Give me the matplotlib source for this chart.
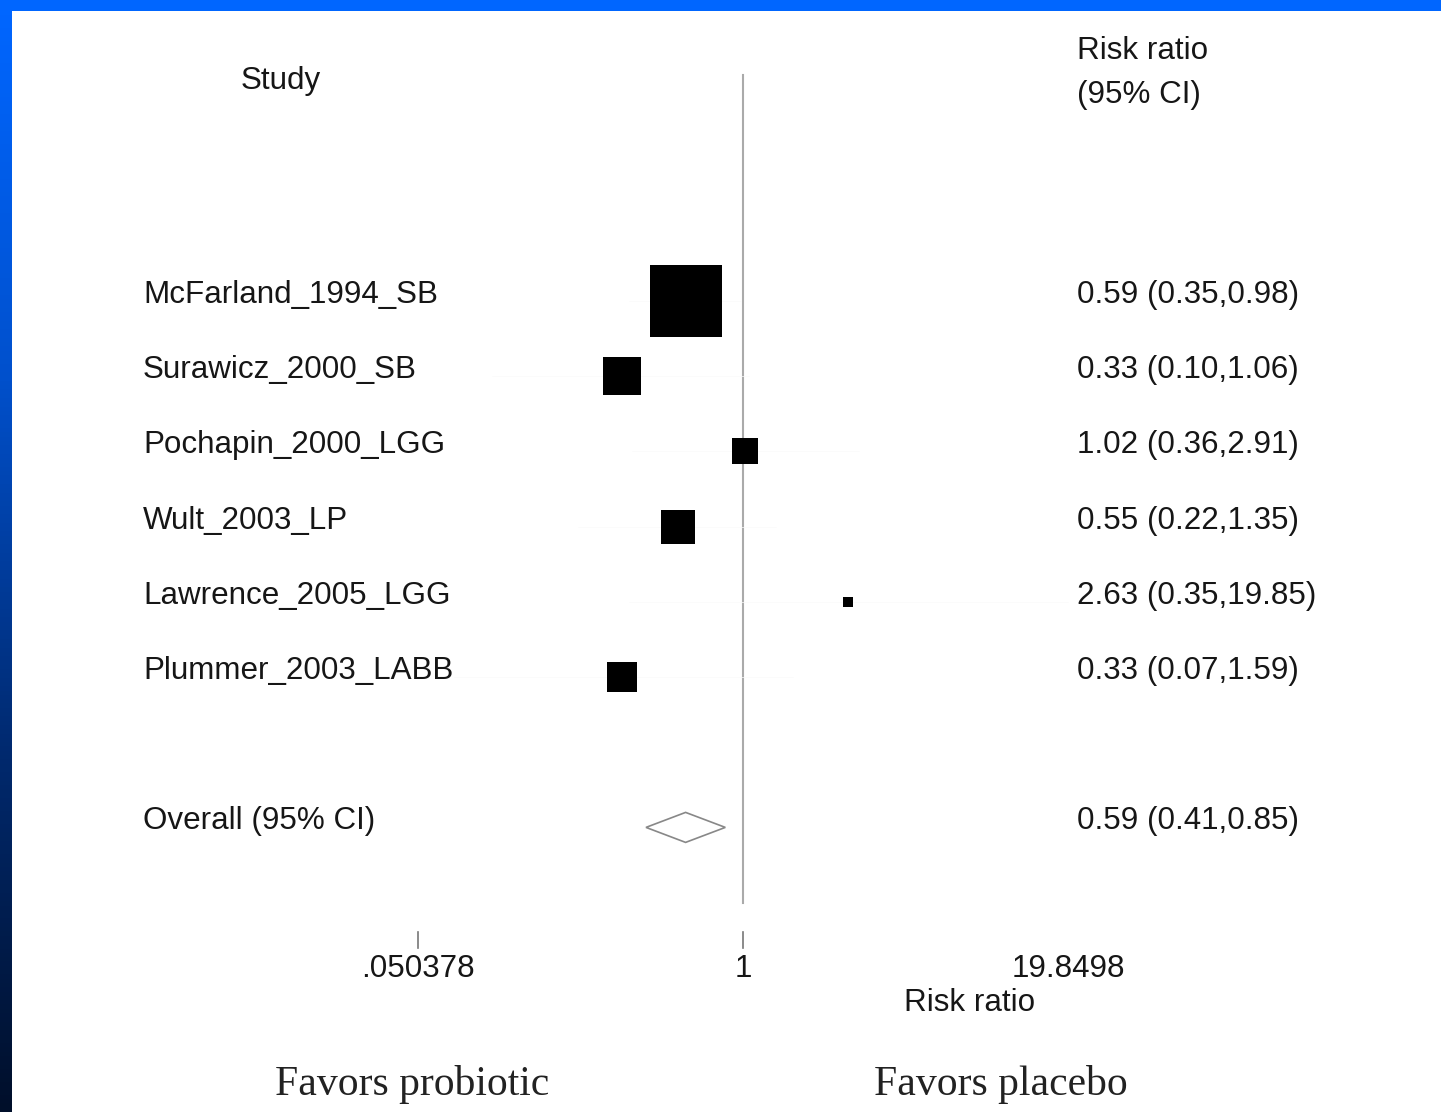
import numpy as np
import matplotlib
matplotlib.use("Agg")
import matplotlib.pyplot as plt
from matplotlib.patches import Polygon, Rectangle
from matplotlib.colors import LinearSegmentedColormap
import matplotlib.transforms as mtransforms

# data
studies = ["McFarland_1994_SB", "Surawicz_2000_SB", "Pochapin_2000_LGG",
           "Wult_2003_LP", "Lawrence_2005_LGG", "Plummer_2003_LABB"]
rr = [0.59, 0.33, 1.02, 0.55, 2.63, 0.33]
ci_lo = [0.35, 0.10, 0.36, 0.22, 0.35, 0.07]
ci_hi = [0.98, 1.06, 2.91, 1.35, 19.85, 1.59]
weights = [54.1, 15.1, 7.6, 12.1, 1.0, 10.0]   # % weight -> box area
rr_text = ["0.59 (0.35,0.98)", "0.33 (0.10,1.06)", "1.02 (0.36,2.91)",
           "0.55 (0.22,1.35)", "2.63 (0.35,19.85)", "0.33 (0.07,1.59)"]
overall = 0.59
overall_lo = 0.41
overall_hi = 0.85
overall_text = "0.59 (0.41,0.85)"
tick_vals = [0.050378, 1, 19.8498]
tick_labels = [".050378", "1", "19.8498"]

W, H = 1441, 1112
fig = plt.figure(figsize=(W / 100, H / 100), dpi=100)
fig.patch.set_facecolor("white")

# blue slide border (top bar + left gradient bar)
fig.patches.append(Rectangle((0, 1 - 11 / H), 1, 11 / H, transform=fig.transFigure,
                             facecolor="#0066ff", edgecolor="none", zorder=0))
bar = fig.add_axes([0, 0, 12 / W, 1 - 11 / H])
cmap = LinearSegmentedColormap.from_list("side", ["#0066ff", "#0050cc", "#002a70", "#000f2a"])
bar.imshow(np.linspace(0, 1, 256).reshape(-1, 1), aspect="auto", cmap=cmap)
bar.axis("off")

# main axes spanning the figure, log x with 1 at x=743px
px_per_ln = 108.8
ax = fig.add_axes([0, 0, 1, 1])
ax.set_xscale("log")
ax.set_xlim(np.exp(-743 / px_per_ln), np.exp((W - 743) / px_per_ln))
ax.set_ylim(H, 0)
ax.axis("off")
ax.patch.set_alpha(0)

row0, step = 301, 75.2
rows = [row0 + step * i for i in range(len(studies))]
y_overall = rows[-1] + 2 * step

tr = mtransforms.blended_transform_factory(fig.transFigure, ax.transData)
font = "Liberation Sans"
fs = 22.6
tc = "#161616"

# null line
ax.plot([1, 1], [75, 903], color="#aaaaaa", lw=1.5, zorder=1)

# CIs (barely visible in the reference) and boxes
for i in range(len(studies)):
    ax.plot([ci_lo[i], ci_hi[i]], [rows[i], rows[i]], color="#fafafa", lw=0.5, zorder=1)
    side = 9.79 * np.sqrt(weights[i])
    ax.plot(rr[i], rows[i], marker="s", ms=side * 0.72, color="black", mew=0, zorder=3)
    ax.text(143 / W, rows[i] - 6, studies[i], transform=tr, fontsize=fs, family=font,
            va="center", ha="left", color=tc)
    ax.text(1077 / W, rows[i] - 6, rr_text[i], transform=tr, fontsize=fs, family=font,
            va="center", ha="left", color=tc)

# overall diamond
ax.add_patch(Polygon([(overall_lo, y_overall), (overall, y_overall - 15),
                      (overall_hi, y_overall), (overall, y_overall + 15)],
                     closed=True, facecolor="white", edgecolor="#888888", lw=1.2, zorder=3))
ax.text(143 / W, y_overall - 6, "Overall (95% CI)", transform=tr, fontsize=fs, family=font,
        va="center", ha="left", color=tc)
ax.text(1077 / W, y_overall - 6, overall_text, transform=tr, fontsize=fs, family=font,
        va="center", ha="left", color=tc)

# headers
ax.text(241 / W, 81, "Study", transform=tr, fontsize=fs, family=font, va="center", ha="left",
        color=tc)
ax.text(1077 / W, 51, "Risk ratio", transform=tr, fontsize=fs, family=font, va="center",
        ha="left", color=tc)
ax.text(1077 / W, 95, "(95% CI)", transform=tr, fontsize=fs, family=font, va="center",
        ha="left", color=tc)

# x axis ticks and labels
for v in tick_vals[:2]:
    ax.plot([v, v], [932, 948], color="#777777", lw=1.2)
for v, lab in zip(tick_vals, tick_labels):
    ax.text(v, 969, lab, fontsize=fs, family=font, va="center", ha="center", color=tc)
ax.text(970 / W, 1003, "Risk ratio", transform=tr, fontsize=fs, family=font, va="center",
        ha="center", color=tc)

# favours labels
ax.text(412 / W, 1084, "Favors probiotic", transform=tr, fontsize=30, family="Liberation Serif",
        va="center", ha="center", color="#222222")
ax.text(1001 / W, 1084, "Favors placebo", transform=tr, fontsize=30, family="Liberation Serif",
        va="center", ha="center", color="#222222")

fig.savefig("out.png", dpi=100)
